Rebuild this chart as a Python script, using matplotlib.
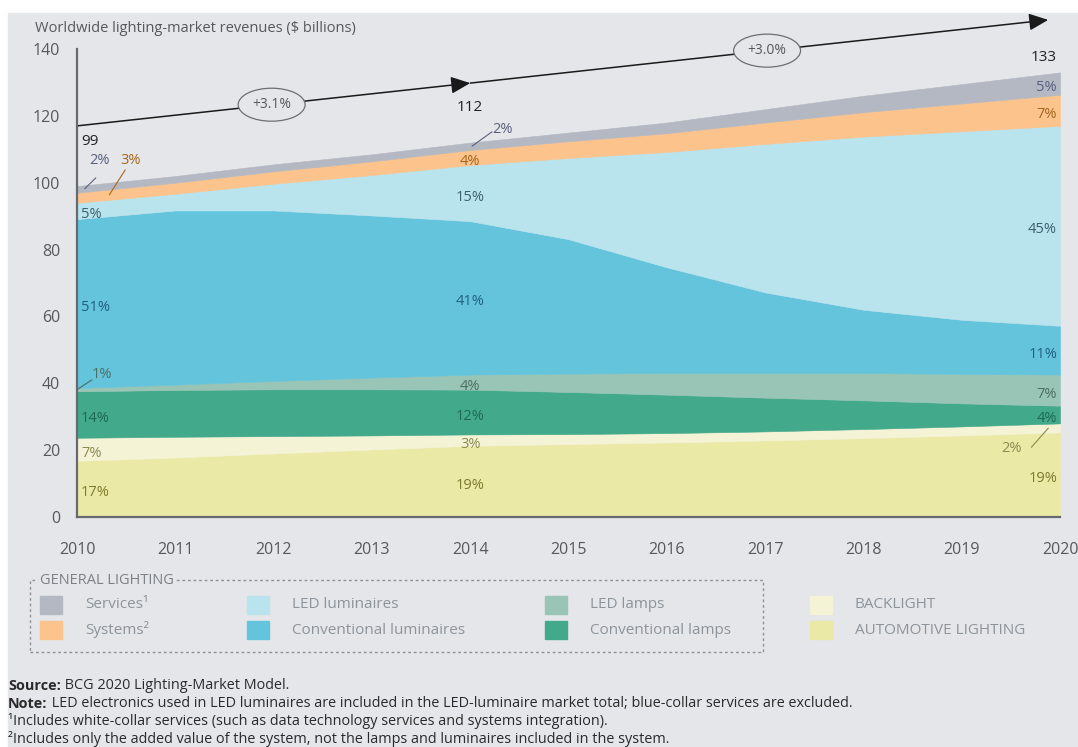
import numpy as np
import matplotlib.pyplot as plt
from matplotlib.patches import Rectangle, FancyArrowPatch

plt.rcParams['font.family'] = ['Open Sans', 'DejaVu Sans']

# revenues in $ billions, stacked bottom to top
years = list(range(2010, 2021))
automotive = [16.8, 17.8, 19.0, 20.2, 21.3, 21.8, 22.3, 22.9, 23.6, 24.4, 25.3]
backlight = [6.9, 6.2, 5.2, 4.2, 3.4, 3.0, 2.8, 2.7, 2.7, 2.7, 2.7]
conv_lamps = [13.9, 14.0, 14.0, 13.8, 13.4, 12.6, 11.5, 10.1, 8.6, 6.9, 5.3]
led_lamps = [1.0, 1.6, 2.5, 3.5, 4.5, 5.5, 6.5, 7.4, 8.2, 8.8, 9.3]
conv_luminaires = [50.5, 52.1, 51.0, 48.5, 45.9, 40.2, 31.6, 24.1, 18.9, 16.2, 14.6]
led_luminaires = [4.9, 5.0, 8.0, 12.1, 16.8, 24.3, 34.5, 44.4, 51.8, 56.4, 59.8]
systems = [3.0, 3.3, 3.7, 4.1, 4.5, 5.0, 5.6, 6.4, 7.3, 8.3, 9.3]
services = [2.0, 2.0, 2.1, 2.1, 2.2, 2.6, 3.2, 4.0, 4.9, 5.8, 6.7]

growth_labels = ["+3.1%", "+3.0%"]

layers = [automotive, backlight, conv_lamps, led_lamps,
          conv_luminaires, led_luminaires, systems, services]
fills = ['#ebe9a6', '#f4f3d6', '#43a98b', '#98c5b5',
         '#64c4dc', '#b9e3ed', '#fcc48c', '#b4b8c2']
inks = ['#7d7a2e', '#8c8a50', '#1d6a52', '#4d6e62',
        '#20607e', '#3d5f6e', '#a5661c', '#5a5f80']

W, H = 1078, 747
BG = '#e4e6e9'
GREY = '#55595e'


def fx(px):
    return px / W


def fy(py):
    return 1 - py / H


fig = plt.figure(figsize=(W / 100, H / 100), dpi=100)
fig.patch.set_facecolor('white')
fig.add_artist(Rectangle((fx(8), 0), 1, fy(13), transform=fig.transFigure,
                         color=BG, zorder=-10))

ax = fig.add_axes([fx(77), fy(517), fx(1060 - 77), (517 - 49) / H])
ax.set_facecolor('none')
ax.stackplot(years, *layers, colors=fills, edgecolor='face', linewidth=0.4)
ax.set_xlim(2010, 2020)
ax.set_ylim(0, 140)
ax.set_yticks(range(0, 141, 20))
ax.set_xticks(years)
ax.tick_params(length=0, labelsize=11.5, colors=GREY)
ax.tick_params(axis='y', pad=12)
ax.tick_params(axis='x', pad=18)
for side in ('top', 'right'):
    ax.spines[side].set_visible(False)
for side in ('left', 'bottom'):
    ax.spines[side].set_color('#666a70')
    ax.spines[side].set_linewidth(1.6)

fig.text(fx(35), fy(28), "Worldwide lighting-market revenues ($ billions)",
         fontsize=10.5, color=GREY, va='center')

# totals and share labels
data = np.array(layers)
totals = data.sum(axis=0)
bottoms = np.vstack([np.zeros(len(years)), np.cumsum(data, axis=0)[:-1]])
mids = bottoms + data / 2

label_cols = {0: (2010.04, 'left'), 4: (2014.0, 'center'), 10: (2019.97, 'right')}
total_offset = {0: 13.2, 4: 10.6, 10: 4.6}

# thin layers get a leader line: (text x, text y, leader x0, leader x1, leader y1)
leaders = {
    (0, 7): (2010.23, 106.5, 2010.08, 2010.19, 101.4),
    (0, 6): (2010.54, 106.5, 2010.33, 2010.49, 103.8),
    (0, 3): (2010.25, 42.5, 2010.0, 2010.15, 41.0),
    (4, 7): (2014.33, 115.8, 2014.02, 2014.22, 115.2),
    (10, 1): (2019.51, 20.6, 2019.88, 2019.71, 20.9),
}

for i, (x, ha) in label_cols.items():
    ax.text(x, totals[i] + total_offset[i], f"{totals[i]:.0f}", ha=ha,
            va='center', fontsize=11, color='#222222')
    for k in range(len(layers)):
        share = f"{round(100 * data[k, i] / totals[i]):.0f}%"
        if (i, k) in leaders:
            tx, ty, lx0, lx1, ly1 = leaders[(i, k)]
            ly0 = np.interp(lx0, years, mids[k])
            ax.plot([lx0, lx1], [ly0, ly1], color=inks[k], lw=0.8,
                    clip_on=False)
            ax.text(tx, ty, share, ha='center', va='center', fontsize=10.5,
                    color=inks[k])
        else:
            ax.text(x, mids[k, i] - 1.2, share, ha=ha, va='center',
                    fontsize=10.5, color=inks[k])

# growth arrows
segments = [((2010.0, 117.0), (2014.0, 129.8), 2011.98),
            ((2014.0, 129.8), (2019.88, 148.7), 2017.02)]
for (p0, p1, lx), text in zip(segments, growth_labels):
    arrow = FancyArrowPatch(p0, p1, arrowstyle='-|>,head_length=0.9,head_width=0.4',
                            mutation_scale=13, color='#1a1a1a', lw=1.1,
                            shrinkA=0, shrinkB=0, clip_on=False)
    ax.add_patch(arrow)
    ly = np.interp(lx, [p0[0], p1[0]], [p0[1], p1[1]])
    ax.text(lx, ly, text, ha='center', va='center', fontsize=10, color=GREY,
            bbox=dict(boxstyle='ellipse,pad=0.3', fc=BG, ec='#6b6f75', lw=0.9),
            clip_on=False)

# legend
box = Rectangle((fx(30), fy(652)), fx(763 - 30), (652 - 580) / H,
                transform=fig.transFigure, fill=False, ec='#8d939a',
                lw=1.0, ls=(0, (2, 2)))
fig.add_artist(box)
fig.text(fx(40), fy(580), "GENERAL LIGHTING", fontsize=10.5, color='#7c8188',
         va='center', bbox=dict(fc=BG, ec='none', pad=1.5))

legend_items = [
    (7, "Services\u00b9", 40, 605), (6, "Systems\u00b2", 40, 630),
    (5, "LED luminaires", 247, 605), (4, "Conventional luminaires", 247, 630),
    (3, "LED lamps", 545, 605), (2, "Conventional lamps", 545, 630),
    (1, "BACKLIGHT", 810, 605), (0, "AUTOMOTIVE LIGHTING", 810, 630),
]
for k, name, x, y in legend_items:
    fig.add_artist(Rectangle((fx(x), fy(y + 9)), fx(22), 18 / H,
                             transform=fig.transFigure, color=fills[k]))
    fig.text(fx(x + 45), fy(y), name, fontsize=11, color='#8d949c',
             va='center')

# notes
notes = [
    ("Source:", " BCG 2020 Lighting-Market Model.", 686),
    ("Note:", " LED electronics used in LED luminaires are included in the "
     "LED-luminaire market total; blue-collar services are excluded.", 704),
    ("", "\u00b9Includes white-collar services (such as data technology "
     "services and systems integration).", 721),
    ("", "\u00b2Includes only the added value of the system, not the lamps "
     "and luminaires included in the system.", 739),
]
note_style = dict(fontsize=10.4, color='#2a2a2a')
for head, rest, y in notes:
    if head:
        t = fig.text(fx(8), fy(y), head, fontweight='bold', va='center',
                     **note_style)
        plt.annotate(rest, xy=(1, 0), xycoords=t, va='bottom', ha='left',
                     **note_style)
    else:
        fig.text(fx(8), fy(y), rest, va='center', **note_style)

fig.savefig('out.png', dpi=100, facecolor=fig.get_facecolor())
